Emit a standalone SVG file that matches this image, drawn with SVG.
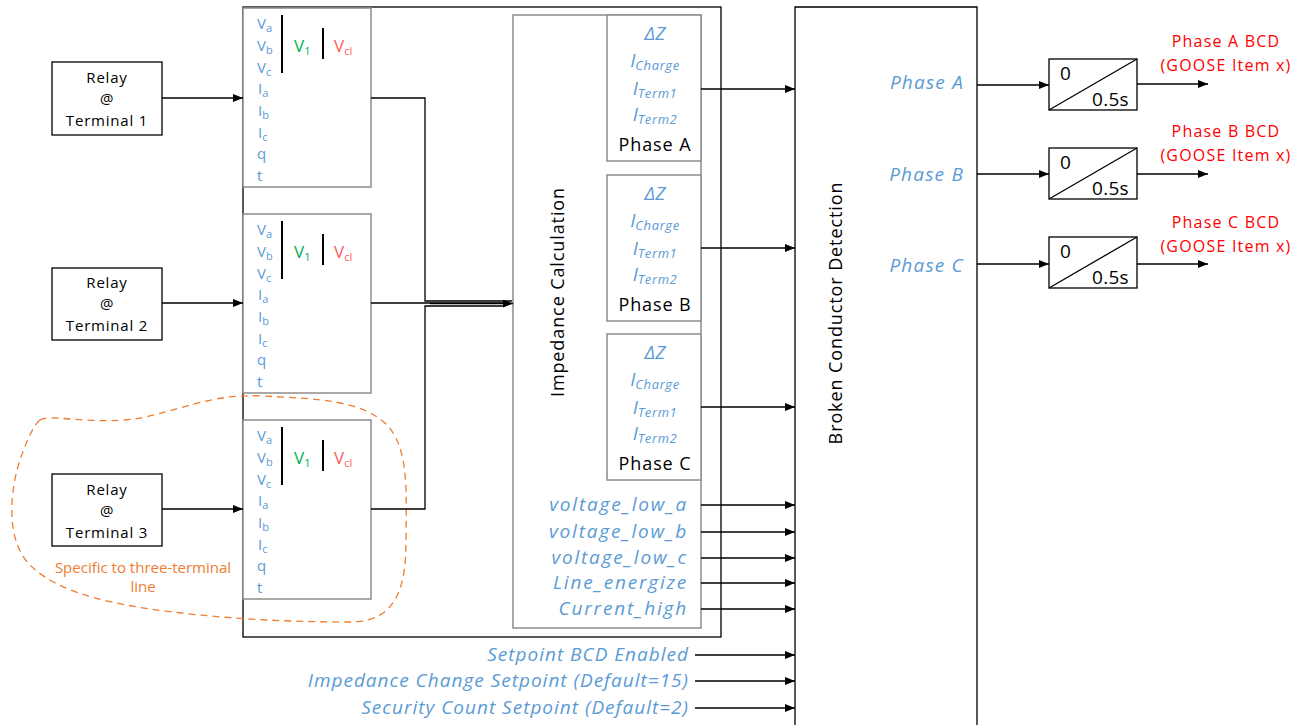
<svg xmlns="http://www.w3.org/2000/svg" width="1300" height="725" viewBox="0 0 1300 725">
<defs>
<marker id="ah" viewBox="0 0 10 8" refX="10" refY="4" markerWidth="10" markerHeight="8" markerUnits="userSpaceOnUse" orient="auto">
<path d="M0,0 L10,4 L0,8 Z" fill="#000"/>
</marker>
<style>
text{font-family:"Open Sans","Liberation Sans",sans-serif;}
.blk{fill:none;stroke:#000;stroke-width:1.3;}
.gry{fill:#fff;stroke:#8c8c8c;stroke-width:1.5;}
.ln{fill:none;stroke:#000;stroke-width:1.3;}
.arr{fill:none;stroke:#000;stroke-width:1.3;marker-end:url(#ah);}
.bl{fill:#5b9bd5;}
.it{font-style:italic;}
.lbl{font-size:15px;fill:#000;text-anchor:middle;letter-spacing:0.8px;}
.sig{font-size:15px;fill:#5b9bd5;}
.big{font-size:17px;}
.sub{font-size:11px;}
.ph{font-size:18px;fill:#000;text-anchor:middle;letter-spacing:0.9px;}
.out{font-size:19px;fill:#5b9bd5;font-style:italic;text-anchor:end;letter-spacing:1.8px;}
.sp{letter-spacing:1.0px;}
.pl{letter-spacing:1.2px;}
.red{font-size:16px;fill:#ff0000;text-anchor:middle;letter-spacing:1.2px;}
</style>
<g id="inbox">
<rect class="gry" x="0" y="0" width="128" height="179"/>
<text class="sig" x="14" y="21">V<tspan class="sub" dy="3">a</tspan></text>
<text class="sig" x="14" y="43">V<tspan class="sub" dy="3">b</tspan></text>
<text class="sig" x="14" y="65">V<tspan class="sub" dy="3">c</tspan></text>
<text class="sig" x="15" y="86">I<tspan class="sub" dy="3">a</tspan></text>
<text class="sig" x="15" y="108">I<tspan class="sub" dy="3">b</tspan></text>
<text class="sig" x="15" y="130">I<tspan class="sub" dy="3">c</tspan></text>
<text class="sig" x="14" y="151">q</text>
<text class="sig" x="14" y="173">t</text>
<line x1="39" y1="7" x2="39" y2="65" stroke="#000" stroke-width="2"/>
<text class="sig big" x="51" y="44" style="fill:#00b050">V<tspan class="sub" font-size="12" dy="3">1</tspan></text>
<line x1="80" y1="20" x2="80" y2="51" stroke="#000" stroke-width="2"/>
<text class="sig big" x="91" y="44" style="fill:#ff5b5b">V<tspan class="sub" font-size="12" dy="3">cl</tspan></text>
</g>
<g id="phbox">
<rect class="gry" x="0" y="0" width="94" height="146"/>
<text class="bl it" x="48" y="25" font-size="19" text-anchor="middle">ΔZ</text>
<text class="bl it" x="48" y="52" font-size="19" text-anchor="middle">I<tspan font-size="13" dy="3" letter-spacing="0.6">Charge</tspan></text>
<text class="bl it" x="48" y="80" font-size="19" text-anchor="middle">I<tspan font-size="13" dy="3" letter-spacing="0.6">Term1</tspan></text>
<text class="bl it" x="48" y="106" font-size="19" text-anchor="middle">I<tspan font-size="13" dy="3" letter-spacing="0.6">Term2</tspan></text>
</g>
<g id="timer">
<rect x="0" y="0" width="88" height="51" fill="#fff" stroke="#000" stroke-width="1.3"/>
<line x1="0" y1="51" x2="88" y2="0" stroke="#000" stroke-width="1.3"/>
<text x="11" y="21" font-size="19" fill="#000">0</text>
<text x="43" y="47" font-size="19" fill="#000" letter-spacing="0.3">0.5s</text>
</g>
</defs>
<rect width="1300" height="725" fill="#fff"/>

<g id="outer-block"><rect class="blk" x="243" y="7" width="478" height="630"/></g>

<g id="input-box-1"><use href="#inbox" x="243" y="8"/></g>
<g id="input-box-2"><use href="#inbox" x="243" y="214"/></g>
<g id="input-box-3"><use href="#inbox" x="243" y="420"/></g>

<g id="impedance-calc">
<rect class="gry" x="513" y="15" width="188" height="613"/>
<text class="ph" transform="translate(564,292) rotate(-90)">Impedance Calculation</text>
<text class="out" x="688" y="511">voltage_low_a</text>
<text class="out" x="688" y="538">voltage_low_b</text>
<text class="out" x="688" y="564">voltage_low_c</text>
<text class="out" x="688" y="589">Line_energize</text>
<text class="out" x="688" y="615">Current_high</text>
</g>
<g id="phase-a-calc"><use href="#phbox" x="607" y="15"/><text class="ph" x="655" y="151">Phase A</text></g>
<g id="phase-b-calc"><use href="#phbox" x="607" y="175"/><text class="ph" x="655" y="311">Phase B</text></g>
<g id="phase-c-calc"><use href="#phbox" x="607" y="334"/><text class="ph" x="655" y="470">Phase C</text></g>

<g id="relay-1"><rect class="blk" x="52" y="62" width="110" height="73" fill="#fff"/>
<text class="lbl" x="107" y="83">Relay</text><text class="lbl" x="107" y="104">@</text><text class="lbl" x="107" y="126">Terminal 1</text></g>
<g id="relay-2"><rect class="blk" x="52" y="268" width="110" height="72" fill="#fff"/>
<text class="lbl" x="107" y="288">Relay</text><text class="lbl" x="107" y="309">@</text><text class="lbl" x="107" y="331">Terminal 2</text></g>
<g id="relay-3"><rect class="blk" x="52" y="474" width="110" height="72" fill="#fff"/>
<text class="lbl" x="107" y="495">Relay</text><text class="lbl" x="107" y="516">@</text><text class="lbl" x="107" y="538">Terminal 3</text></g>

<g id="three-terminal-note">
<path d="M40,420 C48,414 80,423 125,420 C170,416 205,393 262,396 C320,399 360,400 386,424 C410,448 406,495 406,540 C406,585 398,622 350,622 C300,622 250,620 200,615 C120,607 60,595 30,565 C5,540 10,490 20,460 C28,437 34,425 40,420 Z" fill="none" stroke="#ed7d31" stroke-width="1.3" stroke-dasharray="7,5"/>
<text x="143" y="573" font-size="15" fill="#ed7d31" text-anchor="middle">Specific to three-terminal</text>
<text x="143" y="592" font-size="15" fill="#ed7d31" text-anchor="middle">line</text>
</g>

<g id="bcd">
<path class="blk" d="M795,730 L795,7 L977,7 L977,730"/>
<text class="ph" transform="translate(842,313) rotate(-90)">Broken Conductor Detection</text>
<text class="out pl" x="964" y="89">Phase A</text>
<text class="out pl" x="964" y="181">Phase B</text>
<text class="out pl" x="964" y="272">Phase C</text>
</g>

<g id="timer-a"><use href="#timer" x="1049" y="59"/></g>
<g id="timer-b"><use href="#timer" x="1049" y="148"/></g>
<g id="timer-c"><use href="#timer" x="1049" y="237"/></g>

<g id="output-labels">
<text class="red" x="1226" y="47">Phase A BCD</text>
<text class="red" x="1226" y="71">(GOOSE Item x)</text>
<text class="red" x="1226" y="137">Phase B BCD</text>
<text class="red" x="1226" y="161">(GOOSE Item x)</text>
<text class="red" x="1226" y="228">Phase C BCD</text>
<text class="red" x="1226" y="252">(GOOSE Item x)</text>
</g>

<g id="setpoints">
<text class="out sp" x="689" y="661">Setpoint BCD Enabled</text>
<text class="out sp" x="689" y="687">Impedance Change Setpoint (Default=15)</text>
<text class="out sp" x="689" y="714">Security Count Setpoint (Default=2)</text>
</g>

<g id="connectors">
<line class="arr" x1="162" y1="98" x2="243" y2="98"/>
<line class="arr" x1="162" y1="303" x2="243" y2="303"/>
<line class="arr" x1="162" y1="509" x2="243" y2="509"/>
<polyline class="ln" points="371,98 425,98 425,301 512,301"/>
<line class="ln" x1="371" y1="303" x2="505" y2="303"/>
<polyline class="ln" points="371,509 425,509 425,306 505,306"/>
<line class="arr" x1="430" y1="303.5" x2="513" y2="303.5"/>
<line class="arr" x1="701" y1="89" x2="795" y2="89"/>
<line class="arr" x1="701" y1="248" x2="795" y2="248"/>
<line class="arr" x1="701" y1="407" x2="795" y2="407"/>
<line class="arr" x1="701" y1="505" x2="795" y2="505"/>
<line class="arr" x1="701" y1="532" x2="795" y2="532"/>
<line class="arr" x1="701" y1="558" x2="795" y2="558"/>
<line class="arr" x1="701" y1="583" x2="795" y2="583"/>
<line class="arr" x1="701" y1="609" x2="795" y2="609"/>
<line class="arr" x1="695" y1="655" x2="795" y2="655"/>
<line class="arr" x1="695" y1="681" x2="795" y2="681"/>
<line class="arr" x1="695" y1="708" x2="795" y2="708"/>
<line class="arr" x1="977" y1="85" x2="1049" y2="85"/>
<line class="arr" x1="977" y1="174" x2="1049" y2="174"/>
<line class="arr" x1="977" y1="264" x2="1049" y2="264"/>
<line class="arr" x1="1137" y1="84" x2="1208" y2="84"/>
<line class="arr" x1="1137" y1="174" x2="1208" y2="174"/>
<line class="arr" x1="1137" y1="264" x2="1208" y2="264"/>
</g>
</svg>
